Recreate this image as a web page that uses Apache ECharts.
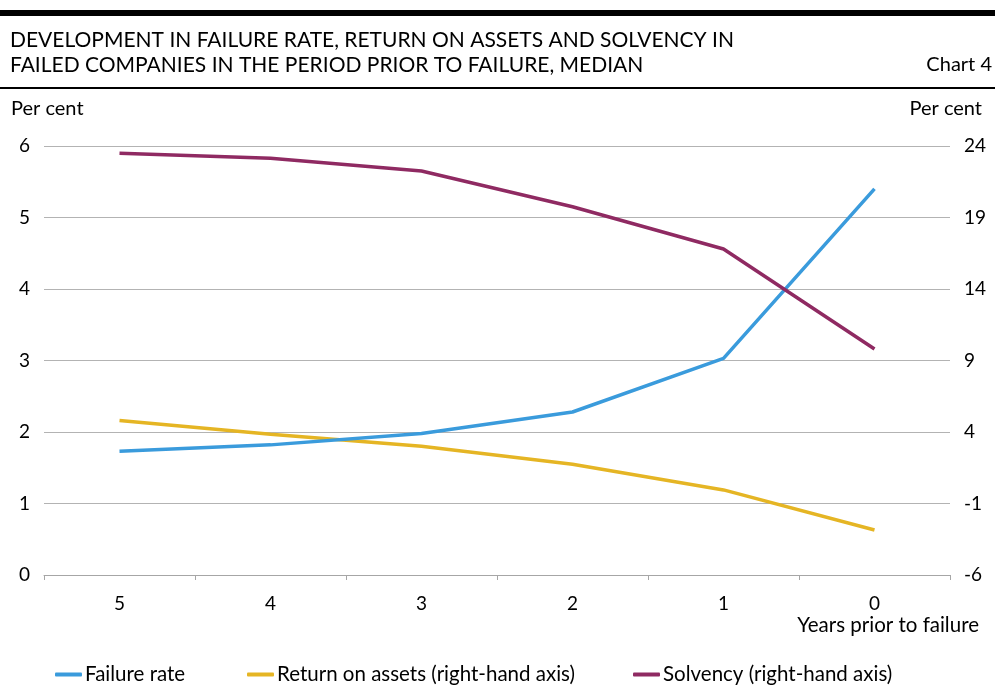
<!DOCTYPE html>
<html>
<head>
<meta charset="utf-8">
<script src="https://cdn.jsdelivr.net/npm/echarts@6/dist/echarts.min.js"></script>
<style>
  html, body { margin: 0; padding: 0; background: #fff; }
  #main { width: 995px; height: 685px; }
</style>
</head>
<body>
<div id="main"></div>
<script>
var years = ['5', '4', '3', '2', '1', '0'];
var failureRate = [1.73, 1.82, 1.98, 2.28, 3.03, 5.4];
var returnOnAssets = [4.8, 3.85, 3.0, 1.75, -0.05, -2.85];
var solvency = [23.5, 23.15, 22.25, 19.75, 16.8, 9.8];
var leftTicks = [0, 1, 2, 3, 4, 5, 6];
var rightTicks = [-6, -1, 4, 9, 14, 19, 24];

var FONT = 'Lato, "Open Sans", sans-serif';
var chart = echarts.init(document.getElementById('main'));

function txt(size, lh) {
  return { fontFamily: FONT, fontWeight: 'normal', fontSize: size, lineHeight: lh, color: '#000' };
}

var option = {
  animation: false,
  backgroundColor: '#fff',
  textStyle: { fontFamily: FONT, color: '#000' },
  title: [
    {
      text: 'DEVELOPMENT IN FAILURE RATE, RETURN ON ASSETS AND SOLVENCY IN\nFAILED COMPANIES IN THE PERIOD PRIOR TO FAILURE, MEDIAN',
      left: 10, top: 28, padding: 0, textStyle: txt(21, 25)
    },
    { text: 'Chart 4', right: 3, top: 53, padding: 0, textStyle: txt(20, 24) },
    { text: 'Per cent', left: 11, top: 99, padding: 0, textStyle: txt(20, 20) },
    { text: 'Per cent', right: 13, top: 99, padding: 0, textStyle: txt(20, 20) },
    { text: 'Years prior to failure', right: 16, top: 615, padding: 0, textStyle: txt(20.5, 20) }
  ],
  graphic: [
    { type: 'rect', left: 0, top: 10, shape: { width: 995, height: 6 }, style: { fill: '#000' } },
    { type: 'rect', left: 0, top: 87, shape: { width: 995, height: 2 }, style: { fill: '#000' } }
  ],
  grid: { left: 44, right: 45, top: 146, bottom: 110, containLabel: false },
  legend: [
    { data: ['Failure rate'], left: 55 },
    { data: ['Return on assets (right-hand axis)'], left: 247 },
    { data: ['Solvency (right-hand axis)'], left: 633 }
  ].map(function (l) {
    l.top = 664;
    l.padding = 0;
    l.icon = 'roundRect';
    l.itemWidth = 27;
    l.itemHeight = 4;
    l.textStyle = { fontFamily: FONT, fontSize: 20.5, color: '#000', padding: [0, 0, 0, -2] };
    return l;
  }),
  xAxis: {
    type: 'category',
    data: years,
    boundaryGap: true,
    axisLine: { lineStyle: { color: '#a6a6a6', width: 1 } },
    axisTick: { show: true, alignWithLabel: false, length: 5, lineStyle: { color: '#a6a6a6' } },
    axisLabel: { fontSize: 19, color: '#000', margin: 19, fontFamily: FONT }
  },
  yAxis: [
    {
      type: 'value', min: 0, max: 6, interval: 1,
      axisLine: { show: false }, axisTick: { show: false },
      axisLabel: { fontSize: 19, color: '#000', margin: 14, fontFamily: FONT },
      splitLine: { lineStyle: { color: '#b3b3b3', width: 1 } }
    },
    {
      type: 'value', min: -6, max: 24, interval: 5,
      axisLine: { show: false }, axisTick: { show: false },
      axisLabel: { fontSize: 19, color: '#000', margin: 14, fontFamily: FONT },
      splitLine: { show: false }
    }
  ],
  series: [
    {
      name: 'Failure rate', type: 'line', data: failureRate, yAxisIndex: 0,
      symbol: 'none', color: '#3a9bdc', lineStyle: { width: 3.5, color: '#3a9bdc' }, z: 3
    },
    {
      name: 'Return on assets (right-hand axis)', type: 'line', data: returnOnAssets, yAxisIndex: 1,
      symbol: 'none', color: '#e5b524', lineStyle: { width: 3.5, color: '#e5b524' }, z: 2
    },
    {
      name: 'Solvency (right-hand axis)', type: 'line', data: solvency, yAxisIndex: 1,
      symbol: 'none', color: '#8f2a62', lineStyle: { width: 3.5, color: '#8f2a62' }, z: 4
    }
  ]
};

chart.setOption(option);
</script>
</body>
</html>
